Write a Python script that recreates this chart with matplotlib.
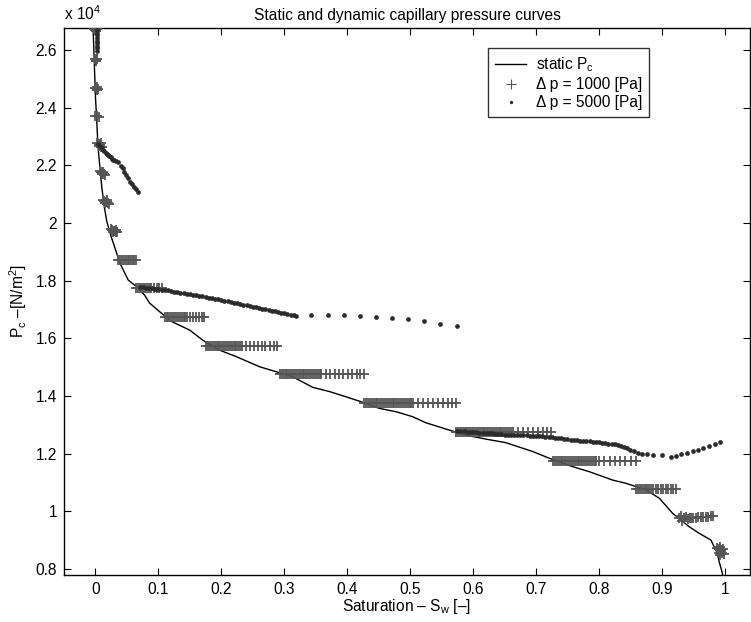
import matplotlib
matplotlib.use("Agg")
import matplotlib.pyplot as plt
from matplotlib.lines import Line2D

plt.rcParams['font.family'] = ['Liberation Sans', 'DejaVu Sans']
plt.rcParams['mathtext.fontset'] = 'custom'
plt.rcParams['mathtext.rm'] = 'Liberation Sans'
plt.rcParams['mathtext.it'] = 'Liberation Sans:italic'

# ---------------- data (Pc in units of 1e4 N/m^2) ----------------
static_sw = [-0.004, -0.002, 0.000, 0.002, 0.004, 0.007, 0.010, 0.014, 0.018, 0.025,
             0.039, 0.052, 0.065, 0.078, 0.086, 0.102, 0.121, 0.150, 0.170, 0.197,
             0.224, 0.261, 0.287, 0.313, 0.345, 0.372, 0.398, 0.422, 0.451, 0.478,
             0.504, 0.525, 0.557, 0.589, 0.621, 0.652, 0.695, 0.721, 0.758, 0.785,
             0.822, 0.843, 0.875, 0.896, 0.917, 0.943, 0.959, 0.978, 0.988, 0.991,
             0.996, 0.997]
static_pc = [2.690, 2.564, 2.437, 2.356, 2.264, 2.194, 2.125, 2.056, 2.005, 1.952,
             1.860, 1.802, 1.779, 1.750, 1.722, 1.692, 1.658, 1.628, 1.594, 1.559,
             1.536, 1.501, 1.484, 1.467, 1.430, 1.415, 1.397, 1.380, 1.357, 1.345,
             1.328, 1.307, 1.285, 1.264, 1.250, 1.238, 1.207, 1.184, 1.155, 1.137,
             1.108, 1.097, 1.074, 1.045, 0.993, 0.947, 0.924, 0.900, 0.854, 0.825,
             0.786, 0.770]

# dp = 1000 Pa : regular rows (one pressure level, many saturation values)
rows_level = [1.873, 1.775, 1.673, 1.574, 1.476, 1.374, 1.275, 1.176, 1.077]
row_187 = [0.036, 0.039, 0.042, 0.045, 0.048, 0.051, 0.054, 0.057, 0.059, 0.062, 0.065]
row_177 = [0.065, 0.068, 0.071, 0.074, 0.077, 0.080, 0.083, 0.086, 0.089, 0.093, 0.097,
           0.101, 0.105]
row_167 = [0.110, 0.113, 0.116, 0.119, 0.122, 0.125, 0.128, 0.131, 0.134, 0.137, 0.140,
           0.143, 0.146, 0.150, 0.155, 0.160, 0.164, 0.169, 0.173]
row_157 = [0.176, 0.179, 0.182, 0.185, 0.188, 0.191, 0.194, 0.197, 0.200, 0.203, 0.206,
           0.209, 0.212, 0.215, 0.218, 0.221, 0.224, 0.227, 0.230, 0.233, 0.239, 0.245,
           0.252, 0.258, 0.264, 0.270, 0.277, 0.283, 0.289]
row_147 = [0.293, 0.296, 0.299, 0.302, 0.305, 0.308, 0.311, 0.314, 0.317, 0.320, 0.323,
           0.326, 0.329, 0.332, 0.335, 0.338, 0.341, 0.344, 0.347, 0.350, 0.353, 0.356,
           0.359, 0.366, 0.373, 0.380, 0.387, 0.394, 0.401, 0.408, 0.415, 0.421, 0.427]
row_137 = [0.427, 0.430, 0.433, 0.436, 0.439, 0.442, 0.445, 0.448, 0.451, 0.454, 0.457,
           0.460, 0.463, 0.466, 0.469, 0.472, 0.475, 0.478, 0.481, 0.484, 0.487, 0.490,
           0.493, 0.496, 0.499, 0.502, 0.504, 0.512, 0.520, 0.528, 0.536, 0.544, 0.552,
           0.560, 0.567, 0.573]
row_127 = [0.573, 0.576, 0.579, 0.582, 0.585, 0.588, 0.591, 0.594, 0.597, 0.600, 0.603,
           0.606, 0.609, 0.612, 0.615, 0.618, 0.621, 0.624, 0.627, 0.630, 0.633, 0.636,
           0.639, 0.642, 0.645, 0.648, 0.651, 0.654, 0.657, 0.660, 0.663, 0.671, 0.679,
           0.687, 0.695, 0.703, 0.711, 0.718, 0.724]
row_117 = [0.727, 0.730, 0.733, 0.736, 0.739, 0.742, 0.745, 0.748, 0.751, 0.754, 0.757,
           0.760, 0.763, 0.766, 0.769, 0.772, 0.775, 0.778, 0.781, 0.784, 0.787, 0.790,
           0.793, 0.796, 0.800, 0.808, 0.817, 0.825, 0.834, 0.842, 0.851, 0.859]
row_107 = [0.859, 0.862, 0.865, 0.868, 0.871, 0.874, 0.877, 0.880, 0.883, 0.886, 0.890,
           0.894, 0.898, 0.902, 0.906, 0.910, 0.914, 0.918, 0.922]
rows_sw = [row_187, row_177, row_167, row_157, row_147, row_137, row_127, row_117, row_107]

# dp = 1000 Pa : compact clusters (saturation, pressure pairs)
blob_sw = [-0.002, 0.000, 0.002, 0.001,
           -0.001, 0.001, 0.003, 0.001, 0.002,
           0.000, 0.002, 0.004, 0.002, 0.003,
           0.000, 0.003, 0.006,
           0.003, 0.005, 0.007, 0.009, 0.011, 0.006, 0.008,
           0.007, 0.009, 0.011, 0.013, 0.015, 0.010, 0.012,
           0.012, 0.014, 0.016, 0.018, 0.020, 0.022, 0.015, 0.019,
           0.025, 0.027, 0.029, 0.031, 0.033, 0.035, 0.028, 0.032,
           0.927, 0.930, 0.932, 0.935, 0.938, 0.941, 0.944, 0.947, 0.950, 0.954, 0.958,
           0.962, 0.966, 0.970, 0.974, 0.978, 0.982,
           0.988, 0.990, 0.992, 0.994, 0.996, 0.998, 0.990, 0.994, 0.997, 0.993, 0.992]
blob_pc = [2.672, 2.668, 2.671, 2.665,
           2.568, 2.563, 2.567, 2.560, 2.570,
           2.468, 2.463, 2.466, 2.460, 2.470,
           2.370, 2.371, 2.369,
           2.277, 2.273, 2.269, 2.265, 2.262, 2.266, 2.276,
           2.179, 2.175, 2.172, 2.169, 2.166, 2.168, 2.178,
           2.080, 2.077, 2.074, 2.071, 2.068, 2.066, 2.068, 2.079,
           1.979, 1.976, 1.973, 1.971, 1.969, 1.967, 1.969, 1.977,
           0.976, 0.985, 0.968, 0.976, 0.980, 0.972, 0.976, 0.978, 0.975, 0.978, 0.979,
           0.979, 0.980, 0.981, 0.981, 0.982, 0.983,
           0.872, 0.868, 0.865, 0.861, 0.857, 0.853, 0.856, 0.866, 0.870, 0.850, 0.876]

# dp = 5000 Pa
d5_sw = [0.002, 0.002, 0.002, 0.002, 0.002, 0.003, 0.003, 0.003, 0.003,
         0.004, 0.006, 0.008, 0.010, 0.012, 0.014, 0.016, 0.018, 0.020, 0.022, 0.024,
         0.026, 0.028, 0.030, 0.033, 0.036, 0.040, 0.043, 0.046, 0.049, 0.052, 0.055,
         0.058, 0.061, 0.064, 0.067,
         0.070, 0.075, 0.080, 0.085, 0.090, 0.095, 0.100, 0.105, 0.110, 0.115, 0.120,
         0.125, 0.130, 0.135, 0.140, 0.145, 0.150, 0.155, 0.160, 0.165, 0.170, 0.175,
         0.180, 0.185, 0.190, 0.195, 0.200, 0.205, 0.210, 0.215, 0.220, 0.225, 0.230,
         0.235, 0.240, 0.245, 0.250, 0.255, 0.260, 0.265, 0.270, 0.275, 0.280, 0.285,
         0.290, 0.295, 0.300, 0.305, 0.310, 0.315, 0.318,
         0.343, 0.369, 0.395, 0.420, 0.446, 0.471, 0.497, 0.522, 0.548, 0.574,
         0.575, 0.580, 0.585, 0.590, 0.595, 0.600, 0.605, 0.610, 0.615, 0.620, 0.625,
         0.630, 0.635, 0.640, 0.645, 0.650, 0.655, 0.660, 0.665, 0.670, 0.675, 0.680,
         0.685, 0.690, 0.695, 0.700, 0.705, 0.710, 0.715, 0.720, 0.725, 0.730, 0.735,
         0.740, 0.745, 0.750, 0.755, 0.760, 0.765, 0.770, 0.775, 0.780, 0.785, 0.790,
         0.795, 0.800, 0.805, 0.810, 0.815, 0.820, 0.825, 0.830, 0.835, 0.840, 0.845,
         0.850, 0.855,
         0.862, 0.868, 0.876, 0.886, 0.900,
         0.914, 0.922, 0.931, 0.940, 0.949, 0.958, 0.966, 0.975, 0.984, 0.993]
d5_pc = [2.668, 2.659, 2.650, 2.641, 2.632, 2.623, 2.614, 2.605, 2.596,
         2.274, 2.269, 2.264, 2.259, 2.254, 2.249, 2.244, 2.239, 2.235, 2.231, 2.227,
         2.223, 2.219, 2.217, 2.214, 2.210, 2.199, 2.189, 2.178, 2.166, 2.155, 2.143,
         2.134, 2.126, 2.117, 2.108,
         1.779, 1.777, 1.776, 1.775, 1.773, 1.772, 1.771, 1.769, 1.768, 1.766, 1.764,
         1.762, 1.760, 1.758, 1.756, 1.755, 1.753, 1.751, 1.749, 1.747, 1.745, 1.743,
         1.741, 1.739, 1.737, 1.735, 1.732, 1.730, 1.728, 1.726, 1.724, 1.722, 1.719,
         1.717, 1.715, 1.713, 1.710, 1.708, 1.706, 1.703, 1.701, 1.699, 1.696, 1.694,
         1.691, 1.689, 1.687, 1.684, 1.682, 1.679, 1.678,
         1.680, 1.680, 1.680, 1.678, 1.675, 1.671, 1.666, 1.660, 1.650, 1.641,
         1.279, 1.278, 1.277, 1.276, 1.275, 1.275, 1.274, 1.273, 1.272, 1.271, 1.270,
         1.270, 1.269, 1.268, 1.267, 1.266, 1.266, 1.265, 1.265, 1.264, 1.264, 1.263,
         1.263, 1.262, 1.262, 1.261, 1.261, 1.260, 1.259, 1.258, 1.257, 1.255, 1.254,
         1.253, 1.251, 1.249, 1.248, 1.247, 1.246, 1.245, 1.244, 1.243, 1.242, 1.241,
         1.240, 1.239, 1.237, 1.236, 1.234, 1.233, 1.232, 1.229, 1.225, 1.222, 1.218,
         1.214, 1.208,
         1.202, 1.199, 1.197, 1.195, 1.194,
         1.189, 1.193, 1.198, 1.203, 1.209, 1.214, 1.220, 1.226, 1.232, 1.239]

x_ticks = [0, 0.1, 0.2, 0.3, 0.4, 0.5, 0.6, 0.7, 0.8, 0.9, 1.0]
x_ticklabels = ['0', '0.1', '0.2', '0.3', '0.4', '0.5', '0.6', '0.7', '0.8', '0.9', '1']
y_ticks = [0.8, 1.0, 1.2, 1.4, 1.6, 1.8, 2.0, 2.2, 2.4, 2.6]
y_ticklabels = ['0.8', '1', '1.2', '1.4', '1.6', '1.8', '2', '2.2', '2.4', '2.6']

# ---------------- plotting ----------------
W, H = 751, 622
fig = plt.figure(figsize=(W / 100, H / 100), dpi=100)
ax = fig.add_axes([64 / W, 47 / H, 686 / W, 547 / H])

PLUS_C = '#555555'
DOT_C = '#2b2b2b'
FS = 11.2

ax.plot(static_sw, static_pc, color='black', lw=1.0, zorder=2)

for lvl, xs in zip(rows_level, rows_sw):
    ax.plot(xs, [lvl] * len(xs), linestyle='none', marker='+', ms=7.5, mew=1.3,
            color=PLUS_C, zorder=3)
ax.plot(blob_sw, blob_pc, linestyle='none', marker='+', ms=7.5, mew=1.3,
        color=PLUS_C, zorder=3)

ax.plot(d5_sw, d5_pc, linestyle='none', marker='o', ms=3.4, mew=0,
        color=DOT_C, zorder=4)

ax.set_xlim(-0.05, 1.04)
ax.set_ylim(0.779, 2.676)
ax.set_xticks(x_ticks)
ax.set_xticklabels(x_ticklabels)
ax.set_yticks(y_ticks)
ax.set_yticklabels(y_ticklabels)
ax.tick_params(direction='in', length=5, width=0.8, top=True, right=True,
               labelsize=FS, pad=5, colors='black')
for s in ax.spines.values():
    s.set_linewidth(1.0)

ax.set_title('Static and dynamic capillary pressure curves', fontsize=FS, pad=6)
ax.set_xlabel(r'Saturation – S$_{\rm w}$ [–]', fontsize=FS, labelpad=0)
ax.set_ylabel(r'P$_{\rm c}$ –[N/m$^{\rm 2}$]', fontsize=FS, labelpad=5)
ax.text(0.0, 1.01, r'x 10$^{\rm 4}$', transform=ax.transAxes, ha='left', va='bottom',
        fontsize=FS)

handles = [
    Line2D([], [], color='black', lw=1.0),
    Line2D([], [], linestyle='none', marker='+', ms=7, mew=0.8, color=PLUS_C),
    Line2D([], [], linestyle='none', marker='o', ms=2.4, mew=0, color=DOT_C),
]
labels = [r'static P$_{\rm c}$', 'Δ p = 1000 [Pa]', 'Δ p = 5000 [Pa]']
leg = ax.legend(handles, labels, loc='upper right', bbox_to_anchor=(0.853, 0.963),
                fontsize=FS, frameon=True, fancybox=False, edgecolor='black',
                handlelength=2.0, handletextpad=0.6, borderpad=0.45, labelspacing=0.2,
                borderaxespad=0)
leg.get_frame().set_linewidth(1.0)

fig.savefig('out.png', dpi=100)
